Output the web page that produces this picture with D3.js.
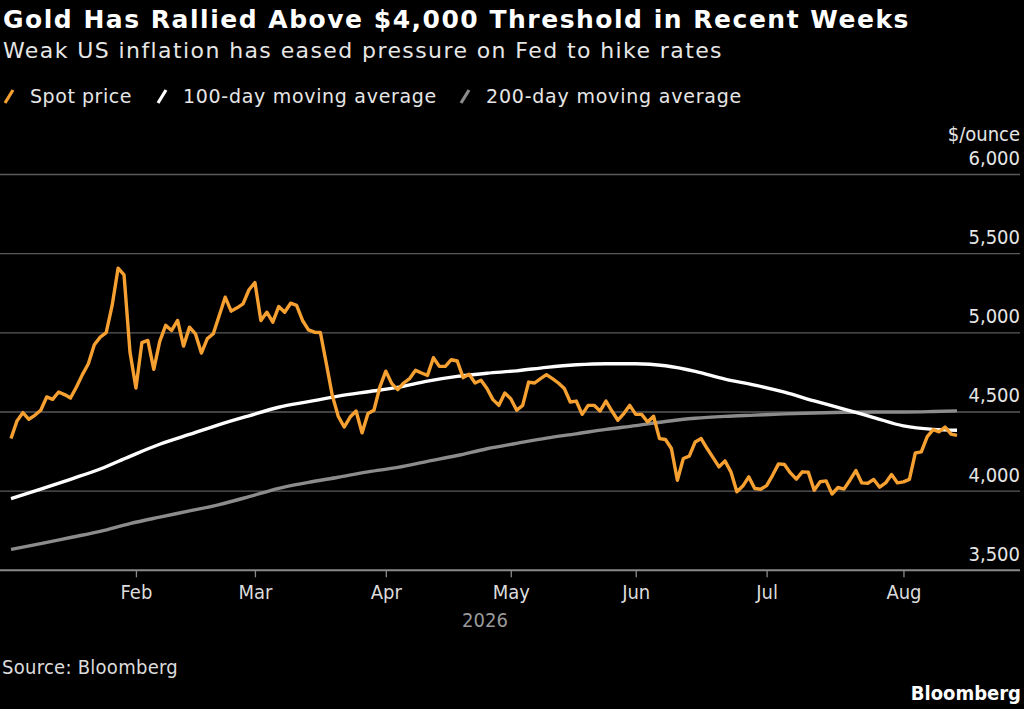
<!DOCTYPE html>
<html>
<head>
<meta charset="utf-8">
<script src="https://cdn.jsdelivr.net/npm/d3@7"></script>
<style>
  html, body { margin: 0; padding: 0; background: #000; }
  svg { display: block; }
  text { font-family: "DejaVu Sans Condensed", "DejaVu Sans", sans-serif; font-stretch: condensed; }
  text.wide { font-family: "DejaVu Sans", sans-serif; font-stretch: normal; }
</style>
</head>
<body>
<div id="chart"></div>
<script>
// gold spot price, one value per trading day from Jan 2 (Good Friday has no print)
const spotPrice = [
  4332, 4443, 4496, 4454, 4479, 4511, 4595, 4580, 4626, 4610,
  4588, 4658, 4736, 4805, 4925, 4973, 5001, 5173, 5408, 5366,
  4878, 4651, 4938, 4952, 4769, 4946, 5047, 5015, 5078, 4916,
  5036, 4994, 4872, 4963, 4994, 5110, 5225, 5137, 5158, 5183,
  5272, 5318, 5078, 5130, 5067, 5166, 5130, 5187, 5173, 5078,
  5019, 5004, 5002, 4805, 4605, 4473, 4405, 4468, 4506, 4368,
  4490, 4511, 4658, 4758, 4679, 4641, 4683, 4711, 4763, 4746,
  4731, 4843, 4788, 4788, 4830, 4822, 4717, 4738, 4683, 4700,
  4648, 4578, 4542, 4620, 4584, 4511, 4542, 4689, 4683, 4711,
  4736, 4711, 4683, 4648, 4563, 4569, 4485, 4542, 4542, 4506,
  4569, 4506, 4448, 4490, 4542, 4485, 4485, 4437, 4473, 4332,
  4326, 4269, 4069, 4206, 4221, 4311, 4332, 4269, 4212, 4153,
  4191, 4122, 3996, 4032, 4090, 4017, 4012, 4035, 4100, 4172,
  4168, 4115, 4076, 4122, 4120, 4006, 4059, 4065, 3982, 4023,
  4013, 4069, 4130, 4052, 4050, 4074, 4025, 4052, 4105, 4052,
  4059, 4074, 4241, 4248, 4345, 4388, 4375, 4405, 4360, 4352
];

// moving averages read every 5th trading day (plus the last one)
const maIndex = [0, 5, 10, 15, 20, 25, 30, 35, 40, 45, 50, 55, 60, 65, 70, 75, 80,
  85, 90, 95, 100, 105, 110, 115, 120, 125, 130, 135, 140, 145, 150, 155, 159];
const ma100 = [3952, 4012, 4075, 4140, 4220, 4296, 4358, 4420, 4476, 4530, 4565,
  4600, 4628, 4655, 4695, 4725, 4745, 4760, 4782, 4798, 4805, 4805, 4792,
  4757, 4708, 4670, 4625, 4570, 4518, 4465, 4412, 4390, 4385];
const ma200 = [3632, 3668, 3707, 3746, 3795, 3836, 3875, 3915, 3965, 4018, 4055,
  4088, 4122, 4150, 4188, 4225, 4268, 4302, 4335, 4362, 4390, 4414, 4440,
  4460, 4472, 4480, 4488, 4494, 4498, 4500, 4500, 4503, 4507];

const yTicks = [3500, 4000, 4500, 5000, 5500, 6000];
const holidays = ["2026-04-03"];

const legendItems = [
  {label: "Spot price", color: "#f5a031", x: 30, w: 102},
  {label: "100-day moving average", color: "#ffffff", x: 183, w: 254},
  {label: "200-day moving average", color: "#8c8c8c", x: 486, w: 256}
];

const width = 1024, height = 709;

// stretch a label's spacing so it spans the measured width
function fitTo(sel, target) {
  const n = sel.text().length;
  const w = sel.node().getComputedTextLength();
  sel.attr("letter-spacing", (target - w) / n);
}

// trading calendar
const parse = d3.utcParse("%Y-%m-%d");
const fmtDay = d3.utcFormat("%Y-%m-%d");
const dates = d3.utcDay.range(parse("2026-01-02"), parse("2026-08-15"))
  .filter(d => d.getUTCDay() !== 0 && d.getUTCDay() !== 6 && !holidays.includes(fmtDay(d)))
  .slice(0, spotPrice.length);

const svg = d3.select("#chart").append("svg")
  .attr("width", width)
  .attr("height", height);

svg.append("rect").attr("width", width).attr("height", height).attr("fill", "#000");

const x = d3.scaleLinear().domain([0, dates.length - 1]).range([11, 957]);
const y = d3.scaleLinear().domain([3500, 6000]).range([570.3, 174.5]);

// title block
const title = svg.append("text").attr("class", "wide").attr("x", 3).attr("y", 28)
  .attr("fill", "#fff").attr("font-size", 25).attr("font-weight", "bold")
  .text("Gold Has Rallied Above $4,000 Threshold in Recent Weeks");
fitTo(title, 907);
const subtitle = svg.append("text").attr("class", "wide").attr("x", 3).attr("y", 58)
  .attr("fill", "#e6e6e6").attr("font-size", 22)
  .text("Weak US inflation has eased pressure on Fed to hike rates");
fitTo(subtitle, 720);

// legend
const legend = svg.append("g").attr("transform", "translate(0,103)");
legendItems.forEach(item => {
  legend.append("line")
    .attr("x1", item.x - 25).attr("y1", 0).attr("x2", item.x - 17).attr("y2", -13)
    .attr("stroke", item.color).attr("stroke-width", 3.2);
  const t = legend.append("text").attr("class", "wide").attr("x", item.x).attr("y", 0)
    .attr("fill", "#e6e6e6").attr("font-size", 19)
    .text(item.label);
  fitTo(t, item.w);
});

// gridlines
svg.append("g").selectAll("line")
  .data(yTicks.slice(1))
  .join("line")
  .attr("x1", 0).attr("x2", 1020)
  .attr("y1", d => y(d)).attr("y2", d => y(d))
  .attr("stroke", "#5a5a5a").attr("stroke-width", 1.3);

// y labels (right side, sitting on the gridlines)
const yAxis = svg.append("g")
  .attr("transform", "translate(1020,0)")
  .call(d3.axisLeft(y).tickValues(yTicks).tickSize(0).tickPadding(0).tickFormat(d3.format(",")));
yAxis.select(".domain").remove();
yAxis.selectAll("text")
  .attr("dy", -10)
  .attr("fill", "#e6e6e6").attr("font-size", 20)
  .attr("font-family", null);
svg.append("text").attr("x", 1020).attr("y", 141)
  .attr("text-anchor", "end").attr("fill", "#e6e6e6").attr("font-size", 20)
  .text("$/ounce");

// x axis at the first trading day of each month
const monthIdx = [];
dates.forEach((d, i) => {
  if (i > 0 && d.getUTCMonth() !== dates[i - 1].getUTCMonth()) monthIdx.push(i);
});
const xAxis = svg.append("g")
  .attr("transform", `translate(0,${y(3500)})`)
  .call(d3.axisBottom(x).tickValues(monthIdx).tickSize(7).tickPadding(8)
    .tickFormat(i => d3.utcFormat("%b")(dates[i])));
xAxis.select(".domain").attr("d", "M0,0H1020").attr("stroke", "#8a8a8a").attr("stroke-width", 2);
xAxis.selectAll(".tick line").attr("stroke", "#8a8a8a").attr("stroke-width", 1.3);
xAxis.selectAll("text").attr("fill", "#dcdcdc").attr("font-size", 20).attr("font-family", null);

svg.append("text").attr("x", 485).attr("y", 627)
  .attr("text-anchor", "middle").attr("fill", "#9a9a9a").attr("font-size", 20)
  .text("2026");

// series
const maLine = d3.line().x((d, i) => x(maIndex[i])).y(d => y(d)).curve(d3.curveMonotoneX);
svg.append("path").datum(ma200)
  .attr("d", maLine).attr("fill", "none")
  .attr("stroke", legendItems[2].color).attr("stroke-width", 3.4);
svg.append("path").datum(ma100)
  .attr("d", maLine).attr("fill", "none")
  .attr("stroke", legendItems[1].color).attr("stroke-width", 3.4);
svg.append("path").datum(spotPrice)
  .attr("d", d3.line().x((d, i) => x(i)).y(d => y(d)))
  .attr("fill", "none").attr("stroke", legendItems[0].color)
  .attr("stroke-width", 3.4).attr("stroke-linejoin", "round");

// footer
const source = svg.append("text").attr("x", 2).attr("y", 674)
  .attr("fill", "#dcdcdc").attr("font-size", 20)
  .text("Source: Bloomberg");
fitTo(source, 176);
svg.append("text").attr("x", 1021).attr("y", 700)
  .attr("text-anchor", "end").attr("fill", "#fff").attr("font-size", 20).attr("font-weight", "bold")
  .text("Bloomberg");
</script>
</body>
</html>
